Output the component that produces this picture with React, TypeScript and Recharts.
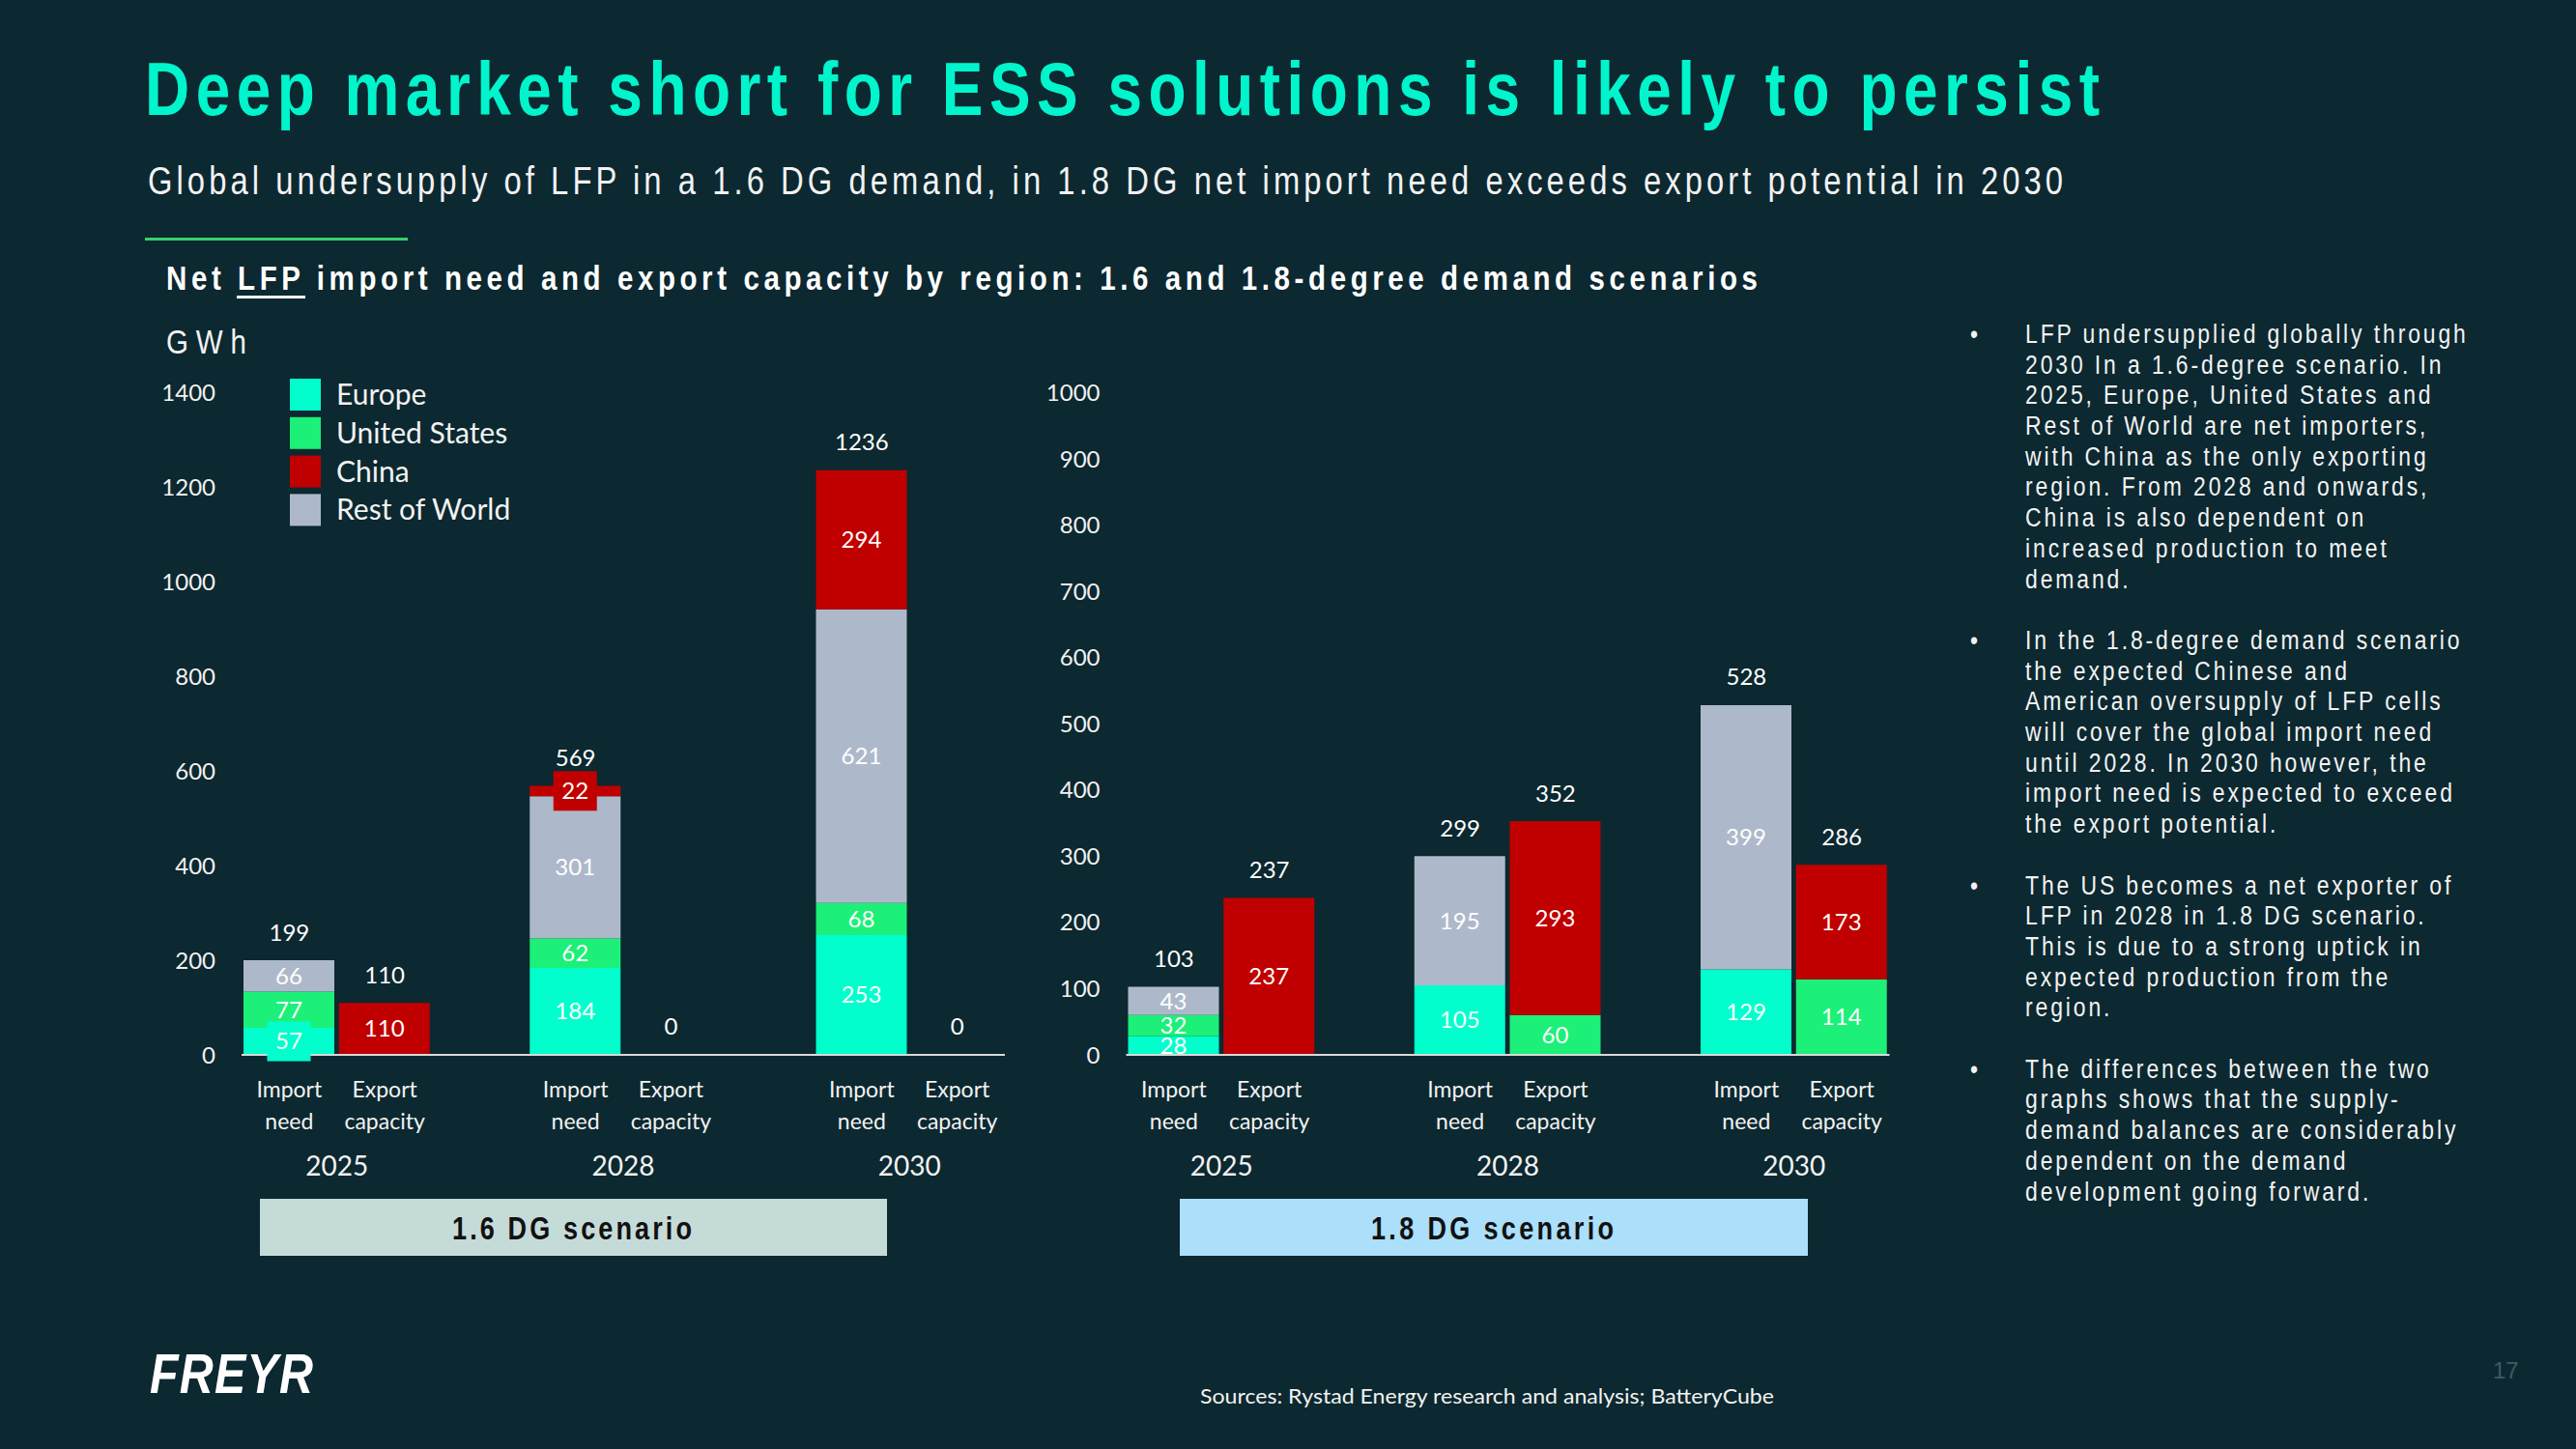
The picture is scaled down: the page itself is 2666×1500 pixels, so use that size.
import { ComposedChart, Bar, Line, XAxis, YAxis, LabelList } from 'recharts';

const YEARS = ['2025', '2028', '2030'];
const FLOWS = ['Import need', 'Export capacity'];

// bar order: import 2025, export 2025, import 2028, export 2028, import 2030, export 2030
const europe16 = [57, 0, 184, 0, 253, 0];
const us16 = [77, 0, 62, 0, 68, 0];
const row16 = [66, 0, 301, 0, 621, 0];
const china16 = [0, 110, 22, 0, 294, 0];
const total16 = [199, 110, 569, 0, 1236, 0];

const europe18 = [28, 0, 105, 0, 129, 0];
const us18 = [32, 0, 0, 60, 0, 114];
const row18 = [43, 0, 195, 0, 399, 0];
const china18 = [0, 237, 0, 293, 0, 173];
const total18 = [103, 237, 299, 352, 528, 286];

const ticks16 = [0, 200, 400, 600, 800, 1000, 1200, 1400];
const ticks18 = [0, 100, 200, 300, 400, 500, 600, 700, 800, 900, 1000];

const SERIES = [
  { key: 'europe', name: 'Europe', color: '#00ffcc' },
  { key: 'us', name: 'United States', color: '#1cf078' },
  { key: 'row', name: 'Rest of World', color: '#adb9ca' },
  { key: 'china', name: 'China', color: '#c00000' },
];
const LEGEND_ORDER = ['europe', 'us', 'china', 'row'];

const BULLETS = [
  ['LFP undersupplied globally through', '2030 In a 1.6-degree scenario. In', '2025, Europe, United States and', 'Rest of World are net importers,', 'with China as the only exporting', 'region. From 2028 and onwards,', 'China is also dependent on', 'increased production to meet', 'demand.'],
  ['In the 1.8-degree demand scenario', 'the expected Chinese and', 'American oversupply of LFP cells', 'will cover the global import need', 'until 2028. In 2030 however, the', 'import need is expected to exceed', 'the export potential.'],
  ['The US becomes a net exporter of', 'LFP in 2028 in 1.8 DG scenario.', 'This is due to a strong uptick in', 'expected production from the', 'region.'],
  ['The differences between the two', 'graphs shows that the supply-', 'demand balances are considerably', 'dependent on the demand', 'development going forward.'],
];

const BG = '#0c2830';
const LBL = 'Lato, "Open Sans", sans-serif';
const ARIAL = '"Liberation Sans", Arial, sans-serif';
const PLOT_W = 790;
const PLOT_H = 685.5;

function buildRows(europe: number[], us: number[], row: number[], china: number[], total: number[]) {
  const rows: any[] = [];
  YEARS.forEach((year, yi) => {
    FLOWS.forEach((flow, fi) => {
      const i = yi * 2 + fi;
      rows.push({ key: `${year}|${flow}`, europe: europe[i], us: us[i], row: row[i], china: china[i], total: total[i] });
    });
    if (yi < YEARS.length - 1) rows.push({ key: `gap${yi}` });
  });
  return rows;
}

const num = (a: any, b: any) => Number(a ?? b ?? 0);

const segLabel = (color: string, boxed: boolean) => (p: any) => {
  let v = p.value;
  if (Array.isArray(v)) v = v[1] - v[0];
  if (!v) return null;
  const vb = p.viewBox || {};
  const x = num(p.x, vb.x), y = num(p.y, vb.y), w = num(p.width, vb.width), h = num(p.height, vb.height);
  const cx = x + w / 2, cy = y + h / 2;
  return (
    <g>
      {boxed && Math.abs(h) < 30 && <rect x={cx - 22.5} y={cy - 20.5} width={45} height={41} fill={color} />}
      <text x={cx} y={cy} dy="0.35em" textAnchor="middle" fill="#ffffff" fontSize={24} fontFamily={LBL}>{v}</text>
    </g>
  );
};

const totalLabel = (p: any) => {
  if (p.value === undefined || p.value === null) return null;
  const vb = p.viewBox || {};
  const x = num(p.x, vb.x), y = num(p.y, vb.y);
  return <text x={x} y={y - 29} dy="0.35em" textAnchor="middle" fill="#ffffff" fontSize={24} fontFamily={LBL}>{p.value}</text>;
};

const flowTick = (band: number) => (props: any) => {
  const { x, y, payload } = props;
  const [year, flow] = String(payload.value).split('|');
  if (!flow) return <g />;
  const [w1, w2] = flow.split(' ');
  return (
    <g fontFamily={LBL} fill="#f2f2f2" textAnchor="middle">
      <text x={x} y={y + 44} fontSize={23}>{w1}</text>
      <text x={x} y={y + 77} fontSize={23}>{w2}</text>
      {flow === FLOWS[0] && <text x={x + band / 2} y={y + 125} fontSize={28}>{year}</text>}
    </g>
  );
};

function ScenarioChart({ left, marginLeft, rows, ticks, max, boxed }: any) {
  const band = PLOT_W / rows.length;
  return (
    <div style={{ position: 'absolute', left, top: 380 }}>
      <ComposedChart width={marginLeft + 60 + PLOT_W + 25} height={850} data={rows}
        margin={{ top: 26.5, right: 25, bottom: 0, left: marginLeft }}>
        <XAxis dataKey="key" interval={0} height={138} tickLine={false} tickSize={0} tickMargin={0}
          axisLine={{ stroke: '#d9d9d9', strokeWidth: 2 }} tick={flowTick(band)} />
        <YAxis width={60} domain={[0, max]} ticks={ticks} interval={0} axisLine={false} tickLine={false}
          tickSize={0} tickMargin={27} tick={{ fill: '#f2f2f2', fontSize: 24, fontFamily: LBL }} />
        {SERIES.map((s) => (
          <Bar key={s.key} dataKey={s.key} stackId="a" fill={s.color} barSize={94} isAnimationActive={false}>
            <LabelList dataKey={s.key} content={segLabel(s.color, boxed)} />
          </Bar>
        ))}
        <Line dataKey="total" stroke="none" dot={false} activeDot={false} isAnimationActive={false}>
          <LabelList dataKey="total" content={totalLabel} />
        </Line>
      </ComposedChart>
    </div>
  );
}

function Cond({ x, y, w, size, weight = 400, fill = '#f2f2f2', sx = 0.82, italic = false, children }: any) {
  return (
    <text transform={`scale(${sx},1)`} x={x / sx} y={y} textLength={w / sx} lengthAdjust="spacing"
      fontSize={size} fontWeight={weight} fontStyle={italic ? 'italic' : 'normal'} fill={fill} fontFamily={ARIAL}>
      {children}
    </text>
  );
}

export default function App() {
  const rows16 = buildRows(europe16, us16, row16, china16, total16);
  const rows18 = buildRows(europe18, us18, row18, china18, total18);
  const lines: { text: string; bullet: boolean }[] = [];
  BULLETS.forEach((para, pi) => {
    para.forEach((t, li) => lines.push({ text: t, bullet: li === 0 }));
    if (pi < BULLETS.length - 1) lines.push({ text: '', bullet: false });
  });
  return (
    <div style={{ position: 'absolute', left: 0, top: 0, width: 2666, height: 1500, background: BG, overflow: 'hidden' }}>
      <ScenarioChart left={140} marginLeft={50} rows={rows16} ticks={ticks16} max={1400} boxed />
      <ScenarioChart left={1060} marginLeft={45.5} rows={rows18} ticks={ticks18} max={1000} boxed={false} />
      <svg width={2666} height={1500} style={{ position: 'absolute', left: 0, top: 0, pointerEvents: 'none' }}>
        <Cond x={150} y={119} w={2023} size={78} weight={700} fill="#00f5cc">Deep market short for ESS solutions is likely to persist</Cond>
        <Cond x={153} y={201} w={1982} size={40}>Global undersupply of LFP in a 1.6 DG demand, in 1.8 DG net import need exceeds export potential in 2030</Cond>
        <rect x={150} y={246} width={272} height={3} fill="#36d06a" />
        <Cond x={172} y={300} w={1647} size={36} weight={700} fill="#ffffff">Net LFP import need and export capacity by region: 1.6 and 1.8-degree demand scenarios</Cond>
        <rect x={245} y={306} width={71} height={3} fill="#ffffff" />
        <Cond x={172} y={366} w={83} size={36}>GWh</Cond>

        {LEGEND_ORDER.map((k, i) => {
          const s = SERIES.find((d) => d.key === k)!;
          return (
            <g key={k}>
              <rect x={300} y={392 + i * 39.8} width={32} height={33} fill={s.color} />
              <text x={348} y={408.5 + i * 39.8} dy="0.35em" fontSize={30} fill="#f2f2f2" fontFamily={LBL}>{s.name}</text>
            </g>
          );
        })}

        <rect x={269} y={1241} width={649} height={59} fill="#c5dbd8" />
        <rect x={1221} y={1241} width={650} height={59} fill="#abdffa" />
        <Cond x={468} y={1283} w={248} size={33} weight={700} fill="#111111">1.6 DG scenario</Cond>
        <Cond x={1419} y={1283} w={251} size={33} weight={700} fill="#111111">1.8 DG scenario</Cond>

        <g transform="scale(0.85,1)" fontFamily={ARIAL} fontSize={27} fill="#f2f2f2">
          {lines.map((l, i) => (
            <g key={i}>
              {l.bullet && <text x={2039 / 0.85} y={355 + i * 31.7}>•</text>}
              <text x={2096 / 0.85} y={355 + i * 31.7} style={{ letterSpacing: '3.4px' }}>{l.text}</text>
            </g>
          ))}
        </g>

        <Cond x={155} y={1442} w={169} size={57} weight={700} sx={0.85} italic fill="#ffffff">FREYR</Cond>
        <text x={1242} y={1453} textLength={594} lengthAdjust="spacingAndGlyphs" fontSize={21} fill="#f2f2f2" fontFamily={LBL}>Sources: Rystad Energy research and analysis; BatteryCube</text>
        <text x={2580} y={1427} fontSize={24} fill="#3e5a64" fontFamily={ARIAL}>17</text>
      </svg>
    </div>
  );
}
